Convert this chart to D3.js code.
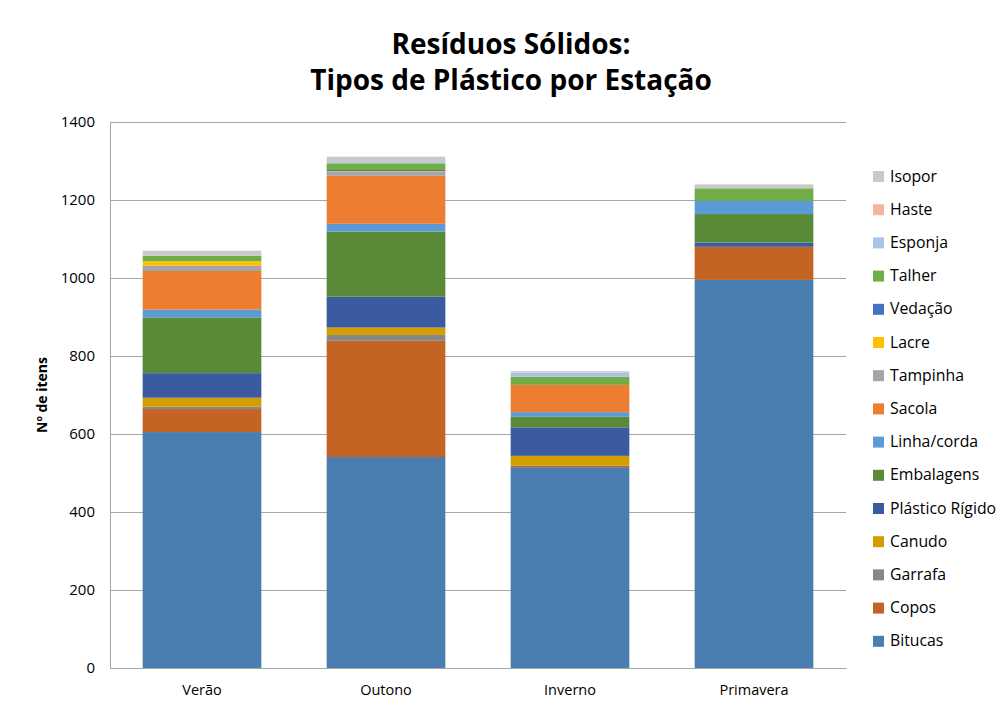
<!DOCTYPE html>
<meta charset="utf-8">
<html>
<head>
<script src="https://d3js.org/d3.v7.min.js"></script>
<style>
  body { margin: 0; background: #fff; }
  text { font-family: "Open Sans", "Liberation Sans", sans-serif; fill: #000; }
</style>
</head>
<body>
<div id="chart"></div>
<script>
// seasons and plastic categories (bottom of stack first)
var seasons = ["Verão", "Outono", "Inverno", "Primavera"];
var categories = ["Bitucas", "Copos", "Garrafa", "Canudo", "Plástico Rígido", "Embalagens",
  "Linha/corda", "Sacola", "Tampinha", "Lacre", "Vedação", "Talher", "Esponja", "Haste", "Isopor"];
var colors = ["#4a7eb0", "#c46424", "#878787", "#d49e00", "#3a5ba0", "#5a8a37",
  "#5b9bd5", "#ed7d31", "#a5a5a5", "#ffc000", "#4472c4", "#70ad47", "#a9c4e6", "#f4b69b", "#c9c9c9"];

// counts per category, one value per season
var bitucas    = [605, 541, 515, 995];
var copos      = [59, 298, 4, 85];
var garrafa    = [6, 15, 0, 0];
var canudo     = [23, 19, 25, 0];
var rigido     = [63, 79, 73, 11];
var embalagens = [143, 167, 27, 73];
var linha      = [20, 20, 12, 34];
var sacola     = [99, 123, 70, 0];
var tampinha   = [14, 10, 0, 0];
var lacre      = [11, 2, 0, 0];
var vedacao    = [0, 3, 0, 0];
var talher     = [14, 17, 21, 32];
var esponja    = [0, 3, 10, 0];
var haste      = [0, 0, 0, 0];
var isopor     = [13, 14, 4, 10];

var series = [bitucas, copos, garrafa, canudo, rigido, embalagens, linha, sacola,
  tampinha, lacre, vedacao, talher, esponja, haste, isopor];
var yTicks = [0, 200, 400, 600, 800, 1000, 1200, 1400];

var width = 1005, height = 711;
var margin = {top: 122, right: 159, bottom: 43, left: 110};
var innerW = width - margin.left - margin.right;
var innerH = height - margin.top - margin.bottom;

var rows = seasons.map(function (s, i) {
  var r = {season: s};
  categories.forEach(function (c, j) { r[c] = series[j][i]; });
  return r;
});
var stacked = d3.stack().keys(categories)(rows);

var x = d3.scaleBand().domain(seasons).range([0, innerW]).paddingInner(0.355).paddingOuter(0.1775);
var y = d3.scaleLinear().domain([0, 1400]).range([innerH, 0]);
var color = d3.scaleOrdinal(categories, colors);

var svg = d3.select("#chart").append("svg")
  .attr("width", width)
  .attr("height", height);

// title
var title = svg.append("text")
  .attr("text-anchor", "middle")
  .attr("font-size", 28)
  .attr("font-weight", "bold");
title.append("tspan").attr("x", 511).attr("y", 54).text("Resíduos Sólidos:");
title.append("tspan").attr("x", 511).attr("y", 90).text("Tipos de Plástico por Estação");

var g = svg.append("g").attr("transform", "translate(" + margin.left + "," + margin.top + ")");

// gridlines
g.append("g")
  .call(d3.axisLeft(y).tickValues(yTicks).tickSize(-innerW).tickFormat(""))
  .call(function (a) { a.select(".domain").remove(); })
  .selectAll("line").attr("stroke", "#a6a6a6").attr("stroke-width", 1);

// bars
g.append("g").selectAll("g")
  .data(stacked)
  .join("g")
  .attr("fill", function (d) { return color(d.key); })
  .selectAll("rect")
  .data(function (d) { return d; })
  .join("rect")
  .attr("x", function (d) { return x(d.data.season); })
  .attr("y", function (d) { return y(d[1]); })
  .attr("height", function (d) { return y(d[0]) - y(d[1]); })
  .attr("width", x.bandwidth());

// y axis
var yAxis = g.append("g")
  .call(d3.axisLeft(y).tickValues(yTicks).tickSize(0).tickPadding(15).tickFormat(d3.format("d")));
yAxis.select(".domain").attr("stroke", "#a6a6a6");
yAxis.selectAll("text").attr("font-size", 15).style("font-family", "'Open Sans', sans-serif");

// x axis
var xAxis = g.append("g")
  .attr("transform", "translate(0," + innerH + ")")
  .call(d3.axisBottom(x).tickSize(0).tickPadding(17));
xAxis.select(".domain").attr("stroke", "#a6a6a6");
xAxis.selectAll("text").attr("font-size", 14.5).style("font-family", "'Open Sans', sans-serif");

// y label
svg.append("text")
  .attr("transform", "translate(47," + (margin.top + innerH / 2) + ") rotate(-90)")
  .attr("text-anchor", "middle")
  .attr("font-size", 14)
  .attr("font-weight", "bold")
  .text("Nº de itens");

// legend (top entry is last series)
var legend = svg.append("g").attr("transform", "translate(873,176)");
var items = legend.selectAll("g")
  .data(categories.slice().reverse())
  .join("g")
  .attr("transform", function (d, i) { return "translate(0," + (i * 33.2) + ")"; });
items.append("rect")
  .attr("x", 0).attr("y", -5)
  .attr("width", 11).attr("height", 11)
  .attr("fill", function (d) { return color(d); });
items.append("text")
  .attr("x", 17).attr("y", 0)
  .attr("dy", "0.35em")
  .attr("font-size", 15.8)
  .text(function (d) { return d; });
</script>
</body>
</html>
